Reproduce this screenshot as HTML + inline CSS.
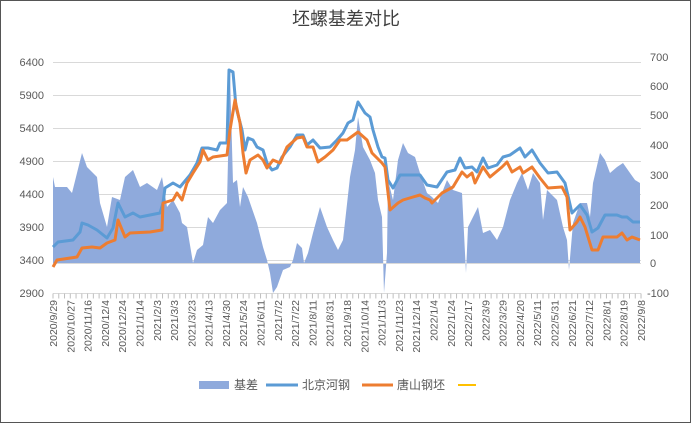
<!DOCTYPE html>
<html><head><meta charset="utf-8"><style>
html,body{margin:0;padding:0;background:#fff;}
svg{display:block;font-family:"Liberation Sans","Noto Sans CJK SC",sans-serif;}
</style></head><body>
<svg width="692" height="424" viewBox="0 0 692 424" xmlns="http://www.w3.org/2000/svg">
<rect x="0.5" y="0.5" width="690" height="422" fill="#fff" stroke="#555" stroke-width="1"/>
<text x="346" y="25" text-anchor="middle" font-size="18" fill="#404040" font-family="'Noto Sans CJK SC',sans-serif">坯螺基差对比</text>
<g stroke="#d9d9d9" stroke-width="1">
<line x1="53" x2="641" y1="62.5" y2="62.5"/><line x1="53" x2="641" y1="95.5" y2="95.5"/>
<line x1="53" x2="641" y1="128.5" y2="128.5"/><line x1="53" x2="641" y1="161.5" y2="161.5"/>
<line x1="53" x2="641" y1="194.5" y2="194.5"/><line x1="53" x2="641" y1="227.5" y2="227.5"/>
<line x1="53" x2="641" y1="260.5" y2="260.5"/><line x1="53" x2="641" y1="293.5" y2="293.5"/>
</g>
<g font-size="11" fill="#595959" text-anchor="end">
<text x="44" y="66">6400</text><text x="44" y="99">5900</text><text x="44" y="132">5400</text><text x="44" y="165">4900</text><text x="44" y="198">4400</text><text x="44" y="231">3900</text><text x="44" y="264">3400</text><text x="44" y="297">2900</text>
</g>
<g font-size="11" fill="#595959" text-anchor="start">
<text x="650" y="61">700</text><text x="650" y="90">600</text><text x="650" y="119">500</text><text x="650" y="149">400</text><text x="650" y="179">300</text><text x="650" y="209">200</text><text x="650" y="239">100</text><text x="650" y="267">0</text><text x="647" y="297">-100</text>
</g>
<polygon fill="#8faadc" points="53,263 53,177 55,187 67,187 72,193 77,173 82,153 87,167 97,177 100,203 107,227 112,197 120,200 125,177 133,170 140,187 147,183 157,190 162,177 167,207 173,200 180,213 182,223 187,227 192,257 193,263 197,250 203,245 208,217 213,223 220,210 227,203 230,73 233,183 237,180 240,207 243,187 248,197 257,223 263,247 267,260 270,273 273,293 277,287 283,270 290,267 293,260 297,243 302,248 304,263 308,253 313,233 320,207 327,227 333,240 338,250 343,240 350,177 355,150 358,117 363,147 370,160 375,173 378,200 382,217 384,293 387,253 388,180 393,200 398,160 403,143 408,153 415,157 420,173 427,193 432,197 438,203 447,180 453,190 462,193 466,273 468,227 473,217 478,207 483,233 490,230 497,240 503,227 510,200 517,183 522,173 528,190 533,173 540,183 543,220 547,190 557,200 563,227 567,240 569,270 573,223 580,203 587,203 590,217 593,183 600,153 605,160 610,173 617,167 623,163 630,173 635,180 640,183 640,263"/>
<line x1="53" x2="641" y1="263.5" y2="263.5" stroke="#d9d9d9"/>
<polyline fill="none" stroke="#5b9bd5" stroke-width="3" stroke-linejoin="round" points="53,247 58,242 73,240 80,232 82,223 88,225 97,230 107,238 113,228 118,203 125,217 133,213 140,217 160,213 163,203 165,188 173,183 180,187 190,175 197,163 202,148 208,148 217,150 220,143 227,143 229,70 233,72 236,107 242,130 245,150 248,138 253,140 257,147 263,150 267,163 272,170 277,168 282,157 290,147 297,135 303,135 307,145 313,140 320,148 330,147 337,140 343,133 348,123 353,120 358,102 365,113 370,117 373,130 378,147 382,157 385,158 388,180 393,188 400,175 420,175 427,185 437,187 447,172 455,170 460,158 465,168 472,167 477,172 483,158 488,168 497,165 503,157 510,155 520,148 525,157 532,150 540,163 548,173 557,172 565,183 572,213 580,205 587,215 592,232 598,228 605,215 617,215 622,217 627,217 633,222 640,222"/>
<polyline fill="none" stroke="#ed7d31" stroke-width="3" stroke-linejoin="round" points="53,267 57,260 77,257 82,248 92,247 100,248 107,243 115,240 118,220 125,237 130,233 150,232 162,230 163,203 173,200 177,193 182,200 187,183 193,173 200,162 203,150 208,160 213,157 227,155 230,130 235,100 240,123 243,153 246,173 250,160 258,155 263,160 267,168 273,160 280,163 287,147 297,138 303,137 307,147 313,147 318,162 325,157 333,150 340,140 347,140 358,132 367,140 372,153 382,163 385,167 390,210 398,203 403,200 413,197 420,195 425,198 430,200 432,203 442,193 453,187 462,172 467,177 472,173 475,183 483,167 490,177 502,167 507,162 512,172 520,167 523,173 532,167 540,178 548,188 562,187 567,197 570,230 577,222 580,217 585,227 592,250 598,250 603,237 617,237 622,233 627,240 632,237 640,240"/>
<line x1="52.5" x2="642" y1="296" y2="296" stroke="#bfbfbf" stroke-width="5" stroke-dasharray="1 4.765"/>
<g font-size="10.5" fill="#595959" text-anchor="end">
<text transform="translate(57,300) rotate(-90)">2020/9/29</text>
<text transform="translate(74.3,300) rotate(-90)">2020/10/27</text>
<text transform="translate(91.6,300) rotate(-90)">2020/11/16</text>
<text transform="translate(108.9,300) rotate(-90)">2020/12/4</text>
<text transform="translate(126.2,300) rotate(-90)">2020/12/24</text>
<text transform="translate(143.5,300) rotate(-90)">2021/1/14</text>
<text transform="translate(160.8,300) rotate(-90)">2021/2/3</text>
<text transform="translate(178.1,300) rotate(-90)">2021/3/3</text>
<text transform="translate(195.4,300) rotate(-90)">2021/3/23</text>
<text transform="translate(212.6,300) rotate(-90)">2021/4/13</text>
<text transform="translate(229.9,300) rotate(-90)">2021/4/30</text>
<text transform="translate(247.2,300) rotate(-90)">2021/5/24</text>
<text transform="translate(264.5,300) rotate(-90)">2021/6/11</text>
<text transform="translate(281.8,300) rotate(-90)">2021/7/2</text>
<text transform="translate(299.1,300) rotate(-90)">2021/7/22</text>
<text transform="translate(316.4,300) rotate(-90)">2021/8/11</text>
<text transform="translate(333.7,300) rotate(-90)">2021/8/31</text>
<text transform="translate(351,300) rotate(-90)">2021/9/18</text>
<text transform="translate(368.3,300) rotate(-90)">2021/10/14</text>
<text transform="translate(385.6,300) rotate(-90)">2021/11/3</text>
<text transform="translate(402.9,300) rotate(-90)">2021/11/23</text>
<text transform="translate(420.2,300) rotate(-90)">2021/12/14</text>
<text transform="translate(437.5,300) rotate(-90)">2022/1/4</text>
<text transform="translate(454.8,300) rotate(-90)">2022/1/24</text>
<text transform="translate(472.1,300) rotate(-90)">2022/2/17</text>
<text transform="translate(489.4,300) rotate(-90)">2022/3/9</text>
<text transform="translate(506.6,300) rotate(-90)">2022/3/29</text>
<text transform="translate(523.9,300) rotate(-90)">2022/4/20</text>
<text transform="translate(541.2,300) rotate(-90)">2022/5/11</text>
<text transform="translate(558.5,300) rotate(-90)">2022/5/31</text>
<text transform="translate(575.8,300) rotate(-90)">2022/6/21</text>
<text transform="translate(593.1,300) rotate(-90)">2022/7/12</text>
<text transform="translate(610.4,300) rotate(-90)">2022/8/1</text>
<text transform="translate(627.7,300) rotate(-90)">2022/8/19</text>
<text transform="translate(645,300) rotate(-90)">2022/9/8</text>
</g>
<rect x="199" y="381" width="30" height="8" fill="#8faadc"/>
<text x="234" y="389" font-size="12" fill="#595959">基差</text>
<line x1="266" x2="298" y1="385" y2="385" stroke="#5b9bd5" stroke-width="3"/>
<text x="302" y="389" font-size="12" fill="#595959">北京河钢</text>
<line x1="362" x2="393" y1="385" y2="385" stroke="#ed7d31" stroke-width="3"/>
<text x="397" y="389" font-size="12" fill="#595959">唐山钢坯</text>
<line x1="458" x2="476" y1="385" y2="385" stroke="#ffc000" stroke-width="2"/>
</svg>
</body></html>
